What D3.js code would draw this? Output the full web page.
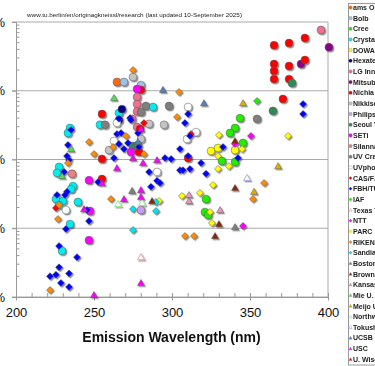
<!DOCTYPE html>
<html>
<head>
<meta charset="utf-8">
<script src="https://cdn.jsdelivr.net/npm/d3@7"></script>
<style>
  body { margin: 0; background: #fff; overflow: hidden; }
  svg { font-family: Arial, "Liberation Sans", sans-serif; }
</style>
</head>
<body>
<script>
// each point: [emission wavelength (nm), external quantum efficiency (%)]
var amsOsram = [[264.7, 13.4]];
var bolb = [[269.2, 13.4], [280.1, 12.1]];
var cree = [[343.6, 4.0], [340.4, 2.87], [337.2, 2.43], [345.5, 1.74], [332, 0.95], [340.4, 0.92],
  [321.8, 0.266], [321.1, 0.172], [323.1, 0.156]];
var crystalIS = [[266, 4.75], [287.8, 5.8], [253.8, 3.2], [234.6, 2.87], [233.3, 2.43], [227.6, 0.78],
  [226.3, 0.64], [236.5, 0.41], [235.3, 0.37], [225.6, 0.266], [230.1, 0.249], [239.7, 0.241],
  [227.6, 0.218], [234.6, 0.115], [229.5, 0.047]];
var dowa = [[325, 1.33], [329.5, 1.47], [340.4, 1.37]];
var hexatech = [[267.9, 5.4], [266, 3.75]];
var lgInnotek = [[395.5, 76.5], [277.6, 8.1], [277.6, 6.4], [277.6, 5.0], [274.4, 3.9], [277.6, 2.97]];
var mitsubishi = [[400.6, 43], [382.7, 24.5]];
var nichia = [[365.4, 46], [375, 49.5], [385.2, 58.5], [365.4, 24.5], [365.4, 19.4], [365.4, 14.8],
  [375, 22.9], [375, 14.8], [385.2, 28], [371.1, 7.6], [280.1, 10.3], [255.1, 4.6], [279.5, 2.78],
  [255.1, 1.02], [278.8, 1.29], [255.1, 0.52], [310.3, 1.05]];
var nikkiso = [[275, 15.8], [285.3, 3.3], [294.9, 3.2], [280.1, 1.99], [259.6, 1.37]];
var philips = [[280.1, 0.184]];
var seoul = [[376.9, 13], [364.7, 5.1], [275, 1.57]];
var seti = [[277.6, 10.6], [273.7, 1.29], [246.8, 0.5], [247.4, 0.178], [246.8, 0.067]];
var silanna = [[235.9, 0.62]];
var uvCraftory = [[283.3, 6.0], [280.1, 4.9], [257, 3.2], [298.1, 6.0], [354.5, 3.9], [278.2, 1.63]];
var uvphotonics = [[310.3, 5.8], [264.7, 3.4], [262.8, 1.86], [315.4, 2.5], [309.6, 1.99], [290.4, 0.66],
  [232, 0.184]];
var cas = [[282, 3.4], [312.2, 2.35], [225.6, 0.197]];
var fbh = [[273.1, 4.0], [266, 3.9], [273.7, 3.75], [384, 6.4], [384, 4.6], [310.3, 4.6], [308.3, 3.4],
  [311.5, 2.2], [278.2, 2.43], [278.8, 1.52], [305.1, 1.42], [310.3, 1.12], [295.5, 1.05], [299.4, 1.02],
  [332.7, 1.52], [342.3, 1.05], [318.6, 0.89], [305.1, 0.70], [307, 0.70], [311.5, 0.73], [285.3, 0.66],
  [321.8, 0.62], [290.4, 0.49], [292.3, 0.455], [286.5, 0.40], [235.3, 2.69], [264.7, 2.35], [267.3, 2.43],
  [271.8, 1.74], [233.3, 1.63], [266, 1.68], [269.2, 1.42], [232.7, 1.12], [234, 0.98], [262.8, 1.05],
  [230.8, 0.66], [252.6, 0.47], [232.7, 0.34], [231.4, 0.305], [226.3, 0.305], [245.5, 0.184],
  [246.8, 0.127], [232, 0.0975], [227.6, 0.055], [239.1, 0.038], [227.6, 0.027], [221.8, 0.020],
  [225.6, 0.021], [234, 0.022], [228.8, 0.016], [234, 0.014]];
var iaf = [[354.5, 7.1]];
var texasTech = [[280.1, 0.038]];
var ntt = [[350.6, 2.2], [340.4, 1.68], [345.5, 0.108]];
var parc = [[330.1, 2.27], [374.4, 2.2], [329.5, 1.12], [344.9, 1.42], [336.5, 0.80], [329.5, 0.73],
  [326.3, 0.425], [317.9, 0.326], [306.4, 0.295], [291.7, 0.249], [324.4, 0.172], [325.6, 0.119]];
var riken = [[275, 20], [304.5, 9.6], [303.2, 4.15], [270.5, 2.2], [246.8, 1.8], [262.2, 1.52], [250, 1.2],
  [282, 1.2], [233.3, 0.89], [359, 0.455], [351.9, 0.266], [260.9, 0.266], [227.6, 0.218], [226.9, 0.136],
  [308.3, 0.077], [314.1, 0.077], [221.8, 0.0126]];
var sandia = [[289.7, 0.241], [275, 0.19], [289.7, 0.178], [275, 0.094]];
var bostonU = [[274.4, 0.35], [340.4, 0.104]];
var brownU = [[340.4, 1.86], [340.4, 0.385], [287.2, 0.249], [330.1, 0.115], [327.6, 0.077]];
var kansas = [[310.9, 0.305], [310.9, 0.249], [330.8, 0.184]];
var mieU = [[262.8, 7.85], [235.3, 1.42], [229.5, 0.575]];
var meijo = [[345.5, 6.6], [368, 0.80], [352.6, 0.34]];
var northwestern = [[265.4, 0.225], [280.8, 0.233]];
var tokushima = [[348.1, 0.54]];
var ucsb = [[294.2, 10.3], [320.5, 6.6], [278.2, 1.8]];
var usc = [[280.1, 2.78], [275, 1.05], [281.4, 0.89], [290.4, 0.98], [264.7, 0.75], [255.1, 0.455],
  [280.1, 0.36], [280.1, 0.285], [269.2, 0.266], [243.6, 0.19], [280.1, 0.016], [250, 0.0107]];
var uWisconsin = [];

var xTicks = [200, 250, 300, 350, 400];
var yTicks = [0.01, 0.1, 1, 10, 100];
var yTickLabels = ["0.01%", "0.1%", "1%", "10%", "100%"];
var titleText = "www.tu.berlin/en/originagkneissl/research  (last updated 10-September 2025)";
var xTitle = "Emission Wavelength (nm)";

// legend order, with marker shape and colour
var series = [
  { name: "ams OSRAM", data: amsOsram, shape: "circle", color: "#ff6a10" },
  { name: "Bolb", data: bolb, shape: "circle", color: "#9dc3e6" },
  { name: "Cree", data: cree, shape: "circle", color: "#22ee00" },
  { name: "Crystal IS", data: crystalIS, shape: "circle", color: "#00eeee" },
  { name: "DOWA", data: dowa, shape: "circle", color: "#ffff00" },
  { name: "Hexatech", data: hexatech, shape: "circle", color: "#000080" },
  { name: "LG Innotek", data: lgInnotek, shape: "circle", color: "#f0708f" },
  { name: "Mitsubishi", data: mitsubishi, shape: "circle", color: "#8b008b" },
  { name: "Nichia", data: nichia, shape: "circle", color: "#ff0000" },
  { name: "Nikkiso", data: nikkiso, shape: "circle", color: "#c4c4c4" },
  { name: "Philips", data: philips, shape: "circle", color: "#c8a0f0" },
  { name: "Seoul Viosys", data: seoul, shape: "circle", color: "#2e8b57" },
  { name: "SETi", data: seti, shape: "circle", color: "#ff00ff" },
  { name: "Silanna", data: silanna, shape: "circle", color: "#f08080" },
  { name: "UV Craftory", data: uvCraftory, shape: "circle", color: "#7f7f7f" },
  { name: "UVphotonics", data: uvphotonics, shape: "circle", color: "#ffffff" },
  { name: "CAS/FJIRSM", data: cas, shape: "diamond", color: "#ff0000" },
  { name: "FBH/TUB", data: fbh, shape: "diamond", color: "#0000ff" },
  { name: "IAF", data: iaf, shape: "diamond", color: "#22ee00" },
  { name: "Texas Tech", data: texasTech, shape: "triangle-open", color: "#f0a0a0" },
  { name: "NTT", data: ntt, shape: "diamond", color: "#ff00ff" },
  { name: "PARC", data: parc, shape: "diamond", color: "#ffff00" },
  { name: "RIKEN", data: riken, shape: "diamond", color: "#ff8c00" },
  { name: "Sandia", data: sandia, shape: "diamond", color: "#00e5ee" },
  { name: "Boston U.", data: bostonU, shape: "triangle", color: "#808080" },
  { name: "Brown U.", data: brownU, shape: "triangle", color: "#8b2500" },
  { name: "Kansas State", data: kansas, shape: "triangle", color: "#e89ac0" },
  { name: "Mie U.", data: mieU, shape: "triangle", color: "#55dd55" },
  { name: "Meijo U.", data: meijo, shape: "triangle", color: "#e0b000" },
  { name: "Northwestern", data: northwestern, shape: "triangle-open", color: "#90ee90" },
  { name: "Tokushima", data: tokushima, shape: "triangle-open", color: "#b0b0f0" },
  { name: "UCSB", data: ucsb, shape: "triangle", color: "#4f81bd" },
  { name: "USC", data: usc, shape: "triangle", color: "#ff00ff" },
  { name: "U. Wisconsin", data: uWisconsin, shape: "triangle", color: "#ff0000" }
];

var svgWidth = 375;
var svgHeight = 366;
var margin = { top: 22, right: 47, bottom: 69, left: 16 };
var width = 328 - margin.left;
var height = 297 - margin.top;

var svg = d3.select("body").append("svg")
  .attr("width", svgWidth)
  .attr("height", svgHeight);

var defs = svg.append("defs");
defs.append("filter")
  .attr("id", "shadow")
  .attr("x", "-60%").attr("y", "-60%")
  .attr("width", "220%").attr("height", "220%")
  .append("feDropShadow")
  .attr("dx", 1.3).attr("dy", 1.3)
  .attr("stdDeviation", 0.7)
  .attr("flood-color", "#000")
  .attr("flood-opacity", 0.45);

var chartGroup = svg.append("g")
  .attr("transform", `translate(${margin.left}, ${margin.top})`);

var xScale = d3.scaleLinear().domain([200, 400]).range([0, width]);
var yScale = d3.scaleLog().domain([0.01, 100]).range([height, 0]);

// title
svg.append("text")
  .attr("x", 27)
  .attr("y", 16.5)
  .attr("font-size", 6.2)
  .attr("fill", "#222")
  .attr("textLength", 215)
  .attr("lengthAdjust", "spacingAndGlyphs")
  .text(titleText);

// gridlines at each decade (also the top frame and extended bottom)
chartGroup.append("g").selectAll("line")
  .data(yTicks)
  .enter()
  .append("line")
  .attr("x1", -4)
  .attr("x2", width)
  .attr("y1", d => yScale(d))
  .attr("y2", d => yScale(d))
  .attr("stroke", "#aaa")
  .attr("stroke-width", 1);

// right frame
chartGroup.append("line")
  .attr("x1", width).attr("x2", width)
  .attr("y1", 0).attr("y2", height)
  .attr("stroke", "#aaa");

// minor log ticks on the left axis
var minorY = [];
yTicks.slice(0, -1).forEach(function (d) {
  for (var k = 2; k < 10; k++) minorY.push(d * k);
});
chartGroup.append("g").selectAll("line")
  .data(minorY)
  .enter()
  .append("line")
  .attr("x1", 0).attr("x2", 3.5)
  .attr("y1", d => yScale(d))
  .attr("y2", d => yScale(d))
  .attr("stroke", "#999");

// y axis
var leftAxis = d3.axisLeft(yScale)
  .tickValues(yTicks)
  .tickFormat((d, i) => yTickLabels[i])
  .tickSize(4)
  .tickPadding(7);
var yAxisG = chartGroup.append("g").call(leftAxis);
yAxisG.select(".domain").attr("stroke", "#999");
yAxisG.selectAll(".tick line").attr("stroke", "#999");
yAxisG.selectAll(".tick text").attr("font-size", 13).attr("fill", "#111").attr("font-family", "Arial, sans-serif");

// x axis with 10 nm minor ticks pointing inward
var bottomAxis = d3.axisBottom(xScale)
  .tickValues(d3.range(200, 401, 10))
  .tickFormat(d => (xTicks.indexOf(d) >= 0 ? d : ""))
  .tickSizeInner(-4)
  .tickSizeOuter(0)
  .tickPadding(10.5);
var xAxisG = chartGroup.append("g")
  .attr("transform", `translate(0, ${height})`)
  .call(bottomAxis);
xAxisG.select(".domain").attr("stroke", "#999");
xAxisG.selectAll(".tick line").attr("stroke", "#999");
xAxisG.selectAll(".tick text").attr("font-size", 13).attr("fill", "#111").attr("font-family", "Arial, sans-serif");
xAxisG.selectAll(".tick")
  .filter(d => xTicks.indexOf(d) >= 0)
  .append("line")
  .attr("y1", 0).attr("y2", 3.5)
  .attr("stroke", "#999");

// x axis title
svg.append("text")
  .attr("x", 171.5)
  .attr("y", 342)
  .attr("text-anchor", "middle")
  .attr("font-size", 14)
  .attr("font-weight", "bold")
  .attr("fill", "#111")
  .text(xTitle);

// marker path by shape
function markerPath(shape, scale) {
  if (shape === "circle") return d3.symbol(d3.symbolCircle, 48 * scale * scale)();
  if (shape === "diamond") {
    var r = 3.5 * scale;
    return `M0,${-r}L${r},0L0,${r}L${-r},0Z`;
  }
  var s = 3.5 * scale;
  return `M0,${-s}L${s * 1.0},${s * 0.75}L${-s * 1.0},${s * 0.75}Z`;
}

// data points
var pointsGroup = chartGroup.append("g").attr("filter", "url(#shadow)");
series.forEach(function (s) {
  pointsGroup.append("g").selectAll("path")
    .data(s.data)
    .enter()
    .append("path")
    .attr("d", markerPath(s.shape, 1))
    .attr("transform", d => `translate(${xScale(d[0])}, ${yScale(d[1])})`)
    .attr("fill", s.shape === "triangle-open" ? "#fff" : s.color)
    .attr("stroke", s.shape === "triangle-open" ? s.color : "#555")
    .attr("stroke-width", s.shape === "triangle-open" ? 1 : 0.5);
});

// legend
var legend = svg.append("g");
legend.append("rect")
  .attr("x", 348.5).attr("y", 3.5)
  .attr("width", 80).attr("height", 361.5)
  .attr("fill", "#fff")
  .attr("stroke", "#999");

var legendItems = legend.selectAll(".item")
  .data(series)
  .enter()
  .append("g")
  .attr("class", "item")
  .attr("transform", (d, i) => `translate(350.5, ${7.5 + i * 10.66})`);

legendItems.append("path")
  .attr("d", d => markerPath(d.shape, 0.46))
  .attr("fill", d => d.shape === "triangle-open" ? "#fff" : d.color)
  .attr("stroke", d => d.shape === "triangle-open" ? d.color : "#777")
  .attr("stroke-width", d => d.shape === "triangle-open" ? 0.7 : 0.3);

legendItems.append("text")
  .attr("x", 2.5)
  .attr("dy", "0.36em")
  .attr("font-size", 7)
  .attr("font-weight", "bold")
  .attr("fill", "#222")
  .text(d => d.name);
</script>
</body>
</html>
